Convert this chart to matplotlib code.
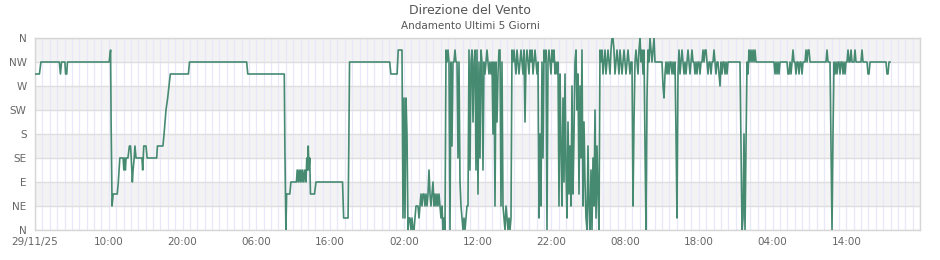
import numpy as np
import matplotlib
matplotlib.use("Agg")
import matplotlib.pyplot as plt

titolo = "Direzione del Vento"
sottotitolo = "Andamento Ultimi 5 Giorni"

# settori della rosa dei venti (gradi)
settori = ["N", "NE", "E", "SE", "S", "SW", "W", "NW", "N"]
gradi_settori = [0, 45, 90, 135, 180, 225, 270, 315, 360]

# asse tempo: ore dall'inizio (29/11/25 00:00)
etichette_x = ["29/11/25", "10:00", "20:00", "06:00", "16:00", "02:00",
               "12:00", "22:00", "08:00", "18:00", "04:00", "14:00"]
ore_etichette = [0, 10, 20, 30, 40, 50, 60, 70, 80, 90, 100, 110]
ore_totali = 120

# primo tratto (letture irregolari): ore, direzione in gradi
ore_a = [0.1, 0.6, 0.8, 3.3, 3.45, 3.6, 4.05, 4.15, 4.3, 4.4,
         10.05, 10.15, 10.25, 10.32, 10.45, 10.6, 11.15, 11.3, 11.5, 11.95,
         12.05, 12.15, 12.25, 12.35, 12.6, 12.8, 12.95, 13.05, 13.2, 13.3,
         13.45, 13.55, 13.7, 14.5, 14.6, 14.75, 15.05, 15.2, 16.5, 16.6,
         17.35, 17.5, 17.63, 17.76, 17.99, 18.17, 18.35, 20.8, 20.95, 28.7,
         28.85, 33.8, 33.88, 34.02, 34.12, 34.55, 34.7, 35.45, 35.55, 35.7,
         35.8, 35.95, 36.05, 36.2, 36.3, 36.45, 36.6, 36.75, 36.85, 36.95,
         37.05, 37.15, 37.25, 37.35, 37.9, 38.1, 41.7, 41.85, 42.45, 42.55,
         42.65, 48.1, 48.25, 49.1, 49.25, 49.4]
dir_a = [292.5, 292.5, 315, 315, 292.5, 315, 315, 292.5, 292.5, 315,
         315, 326.25, 337.5, 202.5, 45, 67.5, 67.5, 90, 135, 135,
         112.5, 135, 112.5, 135, 135, 157.5, 157.5, 135, 90, 112.5,
         135, 157.5, 135, 135, 112.5, 157.5, 157.5, 135, 135, 157.5,
         157.5, 180, 202.5, 225, 247.5, 270, 292.5, 292.5, 315, 315,
         292.5, 292.5, 157.5, 0, 67.5, 67.5, 90, 90, 112.5, 90,
         112.5, 90, 112.5, 90, 112.5, 90, 112.5, 90, 135, 112.5,
         157.5, 112.5, 135, 67.5, 67.5, 90, 90, 22.5, 22.5, 157.5,
         315, 315, 292.5, 292.5, 337.5, 337.5]

# secondo tratto: campioni regolari ogni ~8 minuti
inizio_b = 49.49
passo_b = 0.1356
dir_b = [
    337.5, 337.5, 337.5, 22.5, 247.5, 22.5, 247.5, 180, 0, 22.5,
    22.5, 0, 22.5, 0, 0, 22.5, 45, 45, 45, 22.5,
    45, 67.5, 45, 67.5, 67.5, 45, 67.5, 45, 67.5, 112.5,
    67.5, 45, 67.5, 90, 45, 67.5, 45, 67.5, 45, 67.5,
    45, 22.5, 45, 0, 22.5, 0, 337.5, 315, 337.5, 315,
    0, 315, 157.5, 315, 315, 337.5, 315, 315, 135, 315,
    90, 45, 22.5, 0, 22.5, 0, 22.5, 45, 45, 337.5,
    112.5, 315, 337.5, 202.5, 315, 337.5, 112.5, 337.5, 67.5, 315,
    135, 337.5, 315, 112.5, 315, 292.5, 315, 337.5, 315, 292.5,
    315, 292.5, 315, 180, 315, 45, 315, 202.5, 292.5, 337.5,
    337.5, 45, 315, 45, 22.5, 0, 45, 22.5, 0, 22.5,
    0, 22.5, 337.5, 315, 337.5, 315, 292.5, 337.5, 315, 292.5,
    315, 337.5, 315, 292.5, 337.5, 202.5, 315, 337.5, 315, 292.5,
    337.5, 315, 337.5, 292.5, 315, 337.5, 315, 292.5, 315, 22.5,
    180, 45, 315, 135, 337.5, 315, 337.5, 0, 315, 337.5,
    315, 292.5, 337.5, 315, 337.5, 292.5, 315, 292.5, 315, 45,
    292.5, 157.5, 45, 247.5, 90, 292.5, 112.5, 22.5, 202.5, 67.5,
    157.5, 45, 270, 67.5, 180, 315, 337.5, 225, 292.5, 67.5,
    270, 135, 337.5, 45, 202.5, 90, 22.5, 0, 157.5, 45,
    0, 112.5, 0, 135, 45, 225, 22.5, 157.5, 67.5, 0,
    337.5, 315, 337.5, 292.5, 315, 337.5, 292.5, 315, 337.5, 315,
    292.5, 337.5, 360, 360, 337.5, 292.5, 315, 337.5, 315, 292.5,
    337.5, 315, 292.5, 315, 337.5, 315, 292.5, 315, 337.5, 315,
    292.5, 315, 315, 45, 202.5, 315, 337.5, 315, 292.5, 337.5,
    360, 315, 337.5, 292.5, 337.5, 157.5, 0, 247.5, 337.5, 315,
    360, 337.5, 315, 337.5, 360, 315, 315, 315, 315, 315,
    315, 315, 315, 270, 247.5, 292.5, 315, 292.5, 315, 292.5,
    315, 315, 292.5, 315, 292.5, 315, 180, 22.5, 292.5, 337.5,
    292.5, 315, 337.5, 315, 292.5, 315, 292.5, 315, 337.5, 315,
    292.5, 315, 337.5, 315, 315, 292.5, 315, 292.5, 315, 315,
    292.5, 315, 315, 337.5, 315, 337.5, 337.5, 315, 292.5, 315,
    315, 292.5, 315, 315, 337.5, 315, 292.5, 315, 315, 292.5,
    270, 315, 292.5, 315, 315, 292.5, 315, 292.5, 315, 315,
    315, 315, 315, 315, 315, 315, 315, 315, 315, 315,
    315, 157.5, 0, 22.5, 180, 0, 157.5, 315, 292.5, 337.5,
    315, 337.5, 315, 337.5, 315, 337.5, 315, 315, 315, 315,
    315, 315, 315, 315, 315, 315, 315, 315, 315, 315,
    315, 315, 315, 315, 315, 292.5, 315, 292.5, 315, 292.5,
    315, 315, 315, 315, 315, 315, 315, 315, 292.5, 292.5,
    315, 292.5, 315, 337.5, 315, 315, 292.5, 315, 315, 292.5,
    315, 315, 292.5, 315, 315, 315, 337.5, 315, 337.5, 337.5,
    315, 315, 315, 315, 315, 315, 315, 315, 315, 315,
    315, 315, 315, 315, 315, 315, 315, 337.5, 315, 315,
    315, 157.5, 0, 180, 315, 292.5, 315, 292.5, 315, 315,
    292.5, 315, 315, 292.5, 315, 292.5, 315, 315, 337.5, 315,
    315, 337.5, 315, 315, 315, 337.5, 315, 315, 315, 315,
    315, 315, 337.5, 315, 315, 315, 315, 315, 292.5, 292.5,
    315, 315, 315, 315, 315, 315, 315, 315, 315, 315,
    315, 315, 315, 315, 315, 315, 315, 292.5, 292.5, 315,
    315,
]

ore_b = inizio_b + passo_b * np.arange(len(dir_b))
ore = np.concatenate([ore_a, ore_b])
direzione = np.concatenate([dir_a, dir_b])

colore_linea = "#468a72"
colore_testo = "#666666"

fig = plt.figure(figsize=(9.4, 2.6), dpi=100)
ax = fig.add_axes([35 / 940, 30 / 260, 885 / 940, 192 / 260])

# fasce grigie alternate tra i settori
for i in range(1, len(gradi_settori) - 1, 2):
    ax.axhspan(gradi_settori[i], gradi_settori[i + 1], color="#f3f3f3", lw=0, zorder=0)

ax.plot(ore, direzione, color=colore_linea, lw=1.2, zorder=3)

ax.set_xlim(0, ore_totali)
ax.set_ylim(gradi_settori[0], gradi_settori[-1])
ax.set_yticks(gradi_settori)
ax.set_yticklabels(settori)
ax.set_xticks(ore_etichette)
ax.set_xticklabels(etichette_x)
ax.set_xticks(np.arange(0, ore_totali + 1, 1), minor=True)

ax.grid(which="both", axis="x", color="#e9e7fa", lw=0.9, zorder=1)
ax.grid(which="major", axis="y", color="#dedede", lw=1, zorder=1)
ax.set_axisbelow(True)
ax.tick_params(which="both", length=0)
ax.tick_params(axis="y", pad=6, labelsize=7.5, labelcolor=colore_testo)
ax.tick_params(axis="x", pad=5, labelsize=7.5, labelcolor=colore_testo)
for s in ax.spines.values():
    s.set_color("#d6d6d6")
    s.set_linewidth(1)

fig.text(0.5, 1 - 10 / 260, titolo, ha="center", va="center", fontsize=9, color="#555555")
fig.text(0.5, 1 - 26 / 260, sottotitolo, ha="center", va="center", fontsize=7.5, color="#555555")

fig.savefig("out.png", dpi=100)
